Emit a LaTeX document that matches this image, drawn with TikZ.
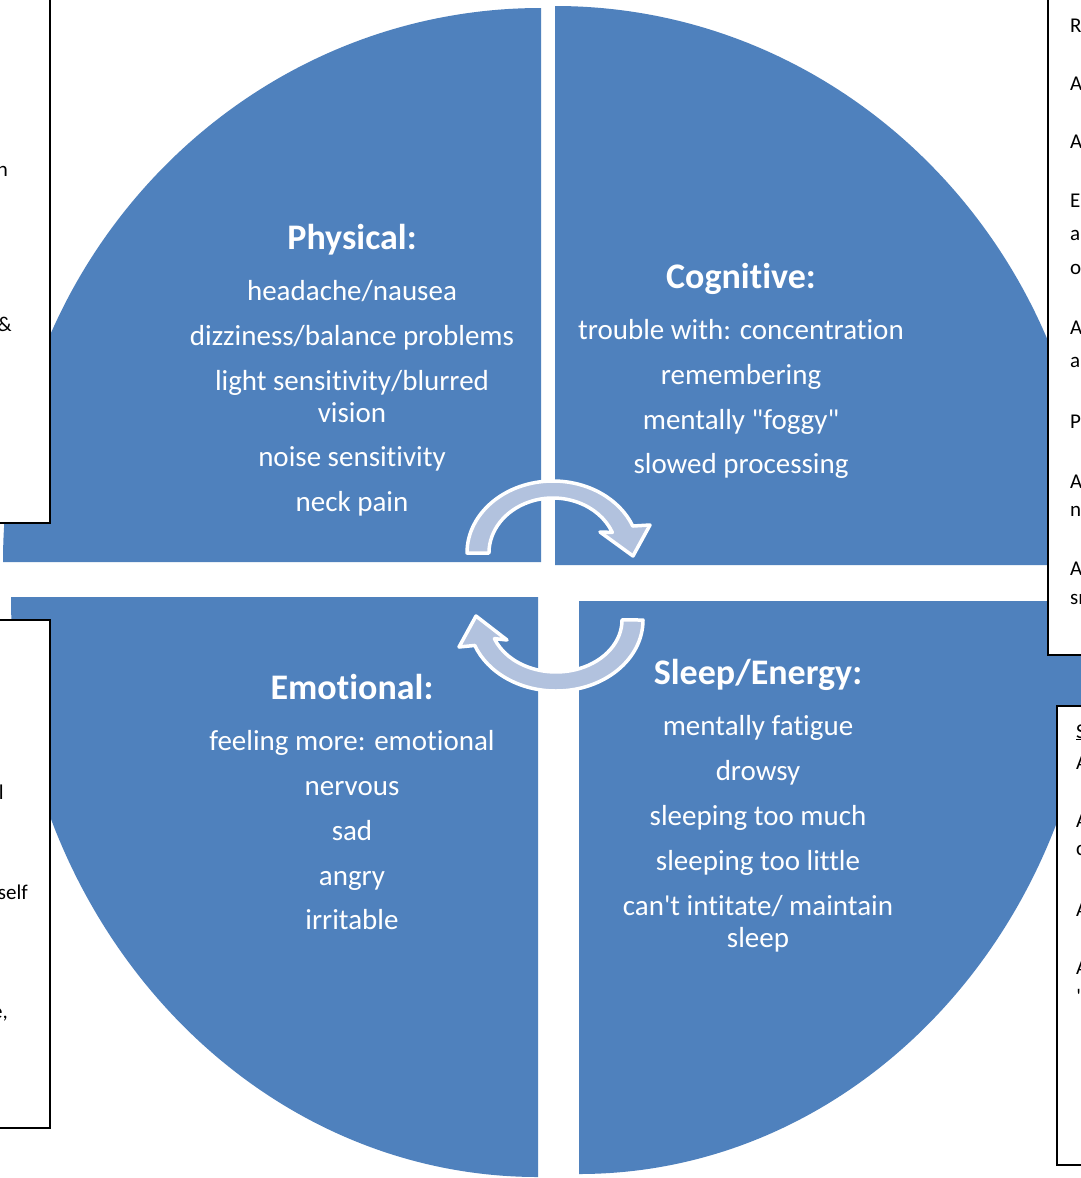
\documentclass[tikz,border=0pt]{standalone}
\usepackage{fontspec}
\setmainfont{Carlito}[Ligatures={NoCommon}]
\definecolor{qblue}{HTML}{4F81BD}
\definecolor{arrfill}{RGB}{178,194,222}
\begin{document}
\begin{tikzpicture}[x=1pt,y=1pt,
  quad/.style={fill=qblue,draw=none},
  sidebox/.style={fill=white,draw=black,line width=1.8pt},
  cyc/.style={fill=arrfill,draw=white,line width=3.5pt,line join=round},
  ttl/.style={text=white,font=\fontsize{36}{40}\selectfont\bfseries,anchor=base,inner sep=0pt},
  itm/.style={text=white,font=\fontsize{29}{34}\selectfont,anchor=base,inner sep=0pt},
  btxt/.style={text=black,font=\fontsize{21}{24}\selectfont,inner sep=0pt}]
\useasboundingbox (0,0) rectangle (1081,-1178);
\fill[white] (0,0) rectangle (1081,-1178);
\clip (0,0) rectangle (1081,-1178);

% quadrants
\path[quad] (541,-562) -- ++(-538,0) arc[start angle=180,end angle=90,x radius=538,y radius=554] -- cycle;
\path[quad] (555,-565) -- ++(0,559) arc[start angle=90,end angle=0,x radius=538,y radius=559] -- cycle;
\path[quad] (538,-597) -- ++(-527,0) arc[start angle=180,end angle=270,x radius=527,y radius=580] -- cycle;
\path[quad] (579,-601) -- ++(0,-573) arc[start angle=270,end angle=360,x radius=518,y radius=573] -- cycle;

% cycle arrows
\path[cyc] (467,-553) arc[start angle=180,end angle=22,x radius=86,y radius=72]
  -- (650,-525) -- (633,-556) -- (600,-532) -- (612.3,-532.4)
  arc[start angle=22,end angle=180,x radius=64,y radius=55] -- cycle;
\path[cyc] (643,-620) arc[start angle=0,end angle=-159,x radius=87,y radius=71]
  -- (459,-647) -- (476,-616) -- (507,-640) -- (494.4,-638.6)
  arc[start angle=-159,end angle=0,x radius=66,y radius=52] -- cycle;

% Physical
\node[ttl] (phT) at (352,-249) {Physical:};
\node[itm] (ph1) at (352,-300) {headache/nausea};
\node[itm] (ph2) at (352,-345) {dizziness/balance problems};
\node[itm] (ph3) at (352,-390) {light sensitivity/blurred};
\node[itm] (ph3b) at (352,-422) {vision};
\node[itm] (ph4) at (352,-466) {noise sensitivity};
\node[itm] (ph5) at (352,-511) {neck pain};

% Cognitive
\node[ttl] (coT) at (741,-288) {Cognitive:};
\node[itm] (co1) at (741,-339) {trouble with: concentration};
\node[itm] (co2) at (741,-384) {remembering};
\node[itm] (co3) at (741,-429) {mentally \textquotedbl foggy\textquotedbl};
\node[itm] (co4) at (741,-473) {slowed processing};

% Emotional
\node[ttl] (emT) at (352,-699) {Emotional:};
\node[itm] (em1) at (352,-750) {feeling more: emotional};
\node[itm] (em2) at (352,-795) {nervous};
\node[itm] (em3) at (352,-840) {sad};
\node[itm] (em4) at (352,-885) {angry};
\node[itm] (em5) at (352,-929) {irritable};

% Sleep/Energy
\node[ttl] (slT) at (758,-684) {Sleep/Energy:};
\node[itm] (sl1) at (758,-735) {mentally fatigue};
\node[itm] (sl2) at (758,-780) {drowsy};
\node[itm] (sl3) at (758,-825) {sleeping too much};
\node[itm] (sl4) at (758,-870) {sleeping too little};
\node[itm] (sl5) at (758,-915) {can\textquotesingle t intitate/ maintain};
\node[itm] (sl5b) at (758,-947) {sleep};

% side boxes
\draw[sidebox] (-10,10) rectangle (50,-523);
\draw[sidebox] (1048,10) rectangle (1095,-655);
\draw[sidebox] (-10,-620) rectangle (50,-1128);
\draw[sidebox] (1057,-706) rectangle (1095,-1165);

% text in top-left box
\node[btxt,anchor=base east] (tl1) at (8,-176) {n};
\node[btxt,anchor=base east] (tl2) at (12,-331) {\&};
% text in bottom-left box
\node[btxt,anchor=base east] (bl1) at (4,-799) {l};
\node[btxt,anchor=base east] (bl2) at (28,-899) {self};
\node[btxt,anchor=base east] (bl3) at (8,-1018) {e,};
% text in top-right box
\node[btxt,anchor=base west] (tr1) at (1070,-32) {R};
\node[btxt,anchor=base west] (tr2) at (1070,-90) {A};
\node[btxt,anchor=base west] (tr3) at (1070,-148) {A};
\node[btxt,anchor=base west] (tr4) at (1070,-207) {E};
\node[btxt,anchor=base west] (tr5) at (1070,-240) {a};
\node[btxt,anchor=base west] (tr6) at (1070,-274) {o};
\node[btxt,anchor=base west] (tr7) at (1070,-334) {A};
\node[btxt,anchor=base west] (tr8) at (1070,-367) {a};
\node[btxt,anchor=base west] (tr9) at (1070,-428) {P};
\node[btxt,anchor=base west] (tr10) at (1070,-488) {A};
\node[btxt,anchor=base west] (tr11) at (1070,-516) {n};
\node[btxt,anchor=base west] (tr12) at (1070,-575) {A};
\node[btxt,anchor=base west] (tr13) at (1070,-604) {sm};
% text in bottom-right box
\node[btxt,anchor=base west] (br1) at (1076,-738) {\underline{S}};
\node[btxt,anchor=base west] (br2) at (1076,-769) {A};
\node[btxt,anchor=base west] (br3) at (1076,-827) {A};
\node[btxt,anchor=base west] (br4) at (1076,-855) {c};
\node[btxt,anchor=base west] (br5) at (1076,-916) {A};
\node[btxt,anchor=base west] (br6) at (1076,-974) {A};
\node[btxt,anchor=base west] (br7) at (1076,-1003) {\textquotedbl};
\end{tikzpicture}
\end{document}
